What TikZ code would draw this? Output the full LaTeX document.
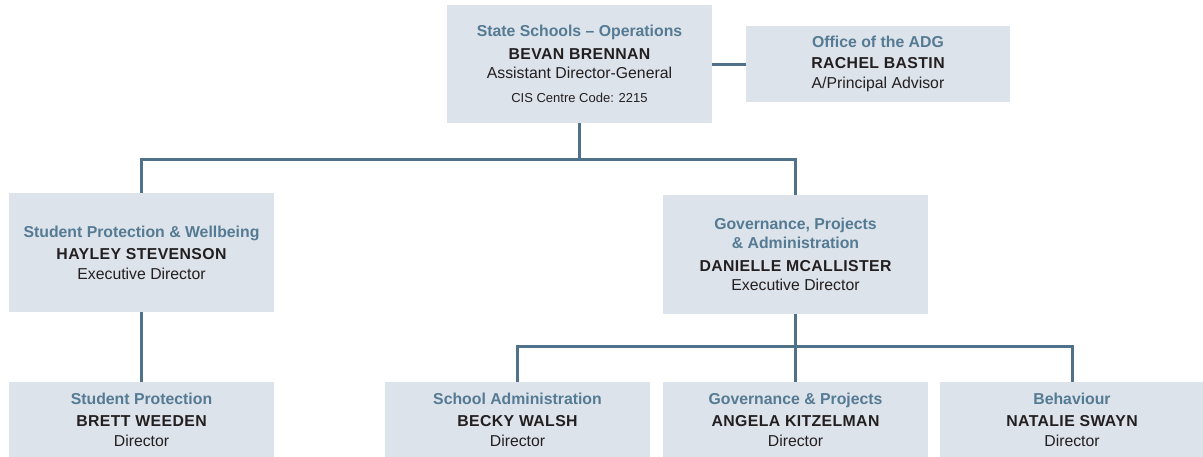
\documentclass[tikz,border=0pt]{standalone}
\usepackage{fontspec}
\setmainfont{Liberation Sans}
\newfontfamily\namefont[LetterSpace=2.5]{Liberation Sans Bold}
\definecolor{boxfill}{HTML}{DCE3EA}
\definecolor{ttlcol}{HTML}{557A93}
\definecolor{txtcol}{HTML}{231F20}
\definecolor{linecol}{HTML}{4F718A}
\newcommand{\ttl}[1]{{\bfseries\color{ttlcol}#1}}
\newcommand{\nm}[1]{{\namefont #1}}
\tikzset{
  box/.style={fill=boxfill, minimum width=265, inner sep=0pt, align=center,
    text=txtcol, font=\fontsize{15.8}{19.5}\selectfont},
  conn/.style={draw=linecol, line width=3pt},
}
\begin{document}
\begin{tikzpicture}[x=1pt,y=-1pt]
\useasboundingbox (0,0) rectangle (1203,456);
\node[box, minimum height=118] (top) at (579.5,64)
  {\ttl{State Schools – Operations}\\[3.5pt]\nm{BEVAN BRENNAN}\\Assistant Director-General\\[4.5pt]{\fontsize{13}{16}\selectfont CIS Centre Code: 2215}};
\node[box, minimum width=264, minimum height=76] (adg) at (878,64)
  {\ttl{Office of the ADG}\\[1.5pt]\nm{RACHEL BASTIN}\\[1pt]A/Principal Advisor};
\node[box, minimum height=119] (spw) at (141.5,252.5)
  {\ttl{Student Protection \& Wellbeing}\\[3pt]\nm{HAYLEY STEVENSON}\\Executive Director};
\node[box, minimum height=119] (gpa) at (795.5,254.5)
  {\ttl{Governance, Projects}\\\ttl{\& Administration}\\[3pt]\nm{DANIELLE MCALLISTER}\\Executive Director};
\node[box, minimum height=75] (b1) at (141.5,419.5)
  {\ttl{Student Protection}\\[3pt]\nm{BRETT WEEDEN}\\Director};
\node[box, minimum height=75] (b2) at (517.5,419.5)
  {\ttl{School Administration}\\[3pt]\nm{BECKY WALSH}\\Director};
\node[box, minimum height=75] (b3) at (795.5,419.5)
  {\ttl{Governance \& Projects}\\[3pt]\nm{ANGELA KITZELMAN}\\Director};
\node[box, minimum height=75] (b4) at (1072,419.5)
  {\ttl{Behaviour}\\[3pt]\nm{NATALIE SWAYN}\\Director};
\coordinate (j1) at (579.5,159);
\coordinate (j2) at (795.5,346);
\draw[conn] (top.east) -- (adg.west);
\draw[conn] (top.south) -- (j1);
\draw[conn] (spw.north) |- (j1) -| (gpa.north);
\draw[conn] (spw.south) -- (b1.north);
\draw[conn] (gpa.south) -- (b3.north);
\draw[conn] (b2.north) |- (j2) -| (b4.north);
\end{tikzpicture}
\end{document}
